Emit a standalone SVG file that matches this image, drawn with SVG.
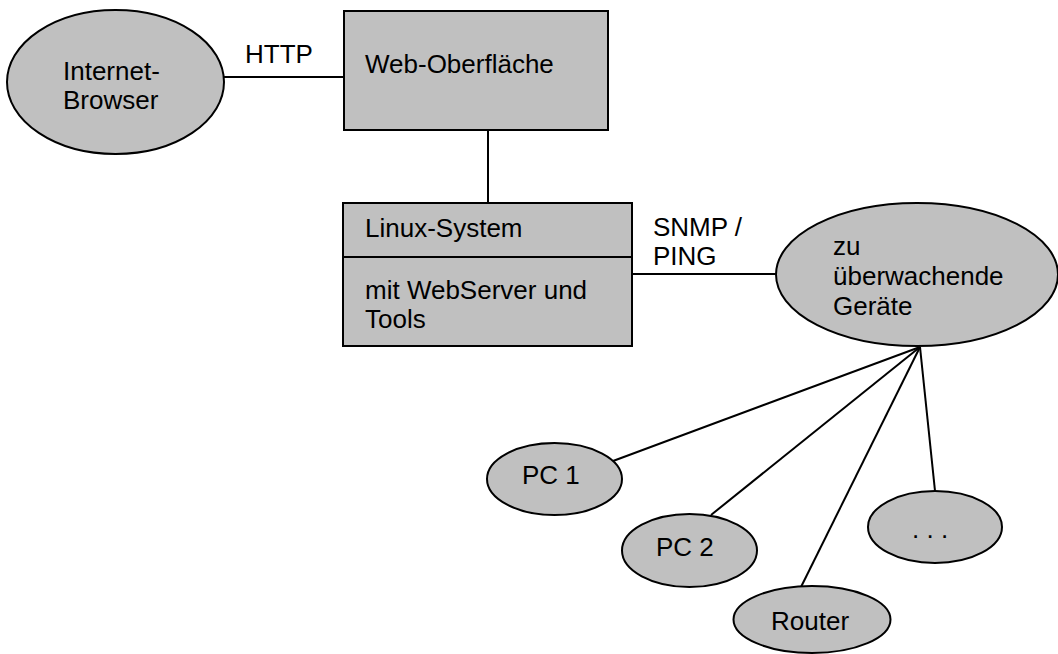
<svg xmlns="http://www.w3.org/2000/svg" width="1058" height="654" viewBox="0 0 1058 654">
<style>
.n{fill:#c0c0c0;stroke:#000;stroke-width:2}
.c{stroke:#000;stroke-width:2;fill:none}
text{font-family:"Liberation Sans",Arial,sans-serif;font-size:26px;fill:#000}
</style>
<rect width="1058" height="654" fill="#fff"/>
<g id="connectors">
<line class="c" x1="224" y1="77" x2="344" y2="77"/>
<line class="c" x1="488" y1="130" x2="488" y2="203"/>
<line class="c" x1="632" y1="274" x2="776" y2="274"/>
<line class="c" x1="920" y1="347" x2="613" y2="461"/>
<line class="c" x1="920" y1="347" x2="711" y2="515"/>
<line class="c" x1="920" y1="347" x2="801" y2="587"/>
<line class="c" x1="920" y1="347" x2="935" y2="491"/>
<text x="245" y="63">HTTP</text>
<text x="653" y="236">SNMP /</text>
<text x="653" y="265">PING</text>
</g>
<g id="browser">
<ellipse class="n" cx="115.5" cy="82" rx="108.5" ry="72"/>
<text x="63" y="80">Internet-</text>
<text x="63" y="109">Browser</text>
</g>
<g id="web">
<rect class="n" x="344" y="11" width="264" height="119"/>
<text x="365" y="73">Web-Oberfläche</text>
</g>
<g id="linux">
<rect class="n" x="343" y="203" width="289" height="143"/>
<line class="c" x1="343" y1="257" x2="632" y2="257"/>
<text x="365" y="237">Linux-System</text>
<text x="365" y="299">mit WebServer und</text>
<text x="365" y="328">Tools</text>
</g>
<g id="geraete">
<ellipse class="n" cx="917" cy="274.5" rx="141" ry="71.5"/>
<text x="833" y="255">zu</text>
<text x="833" y="285">überwachende</text>
<text x="833" y="315">Geräte</text>
</g>
<g id="pc1">
<ellipse class="n" cx="554.5" cy="479" rx="67.5" ry="36"/>
<text x="522" y="484">PC 1</text>
</g>
<g id="pc2">
<ellipse class="n" cx="689.5" cy="550.5" rx="67.5" ry="36.5"/>
<text x="656" y="556">PC 2</text>
</g>
<g id="router">
<ellipse class="n" cx="812" cy="619.5" rx="78.5" ry="33.5"/>
<text x="771" y="630">Router</text>
</g>
<g id="more">
<ellipse class="n" cx="935" cy="527" rx="67" ry="36"/>
<text x="912" y="538">. . .</text>
</g>
</svg>
